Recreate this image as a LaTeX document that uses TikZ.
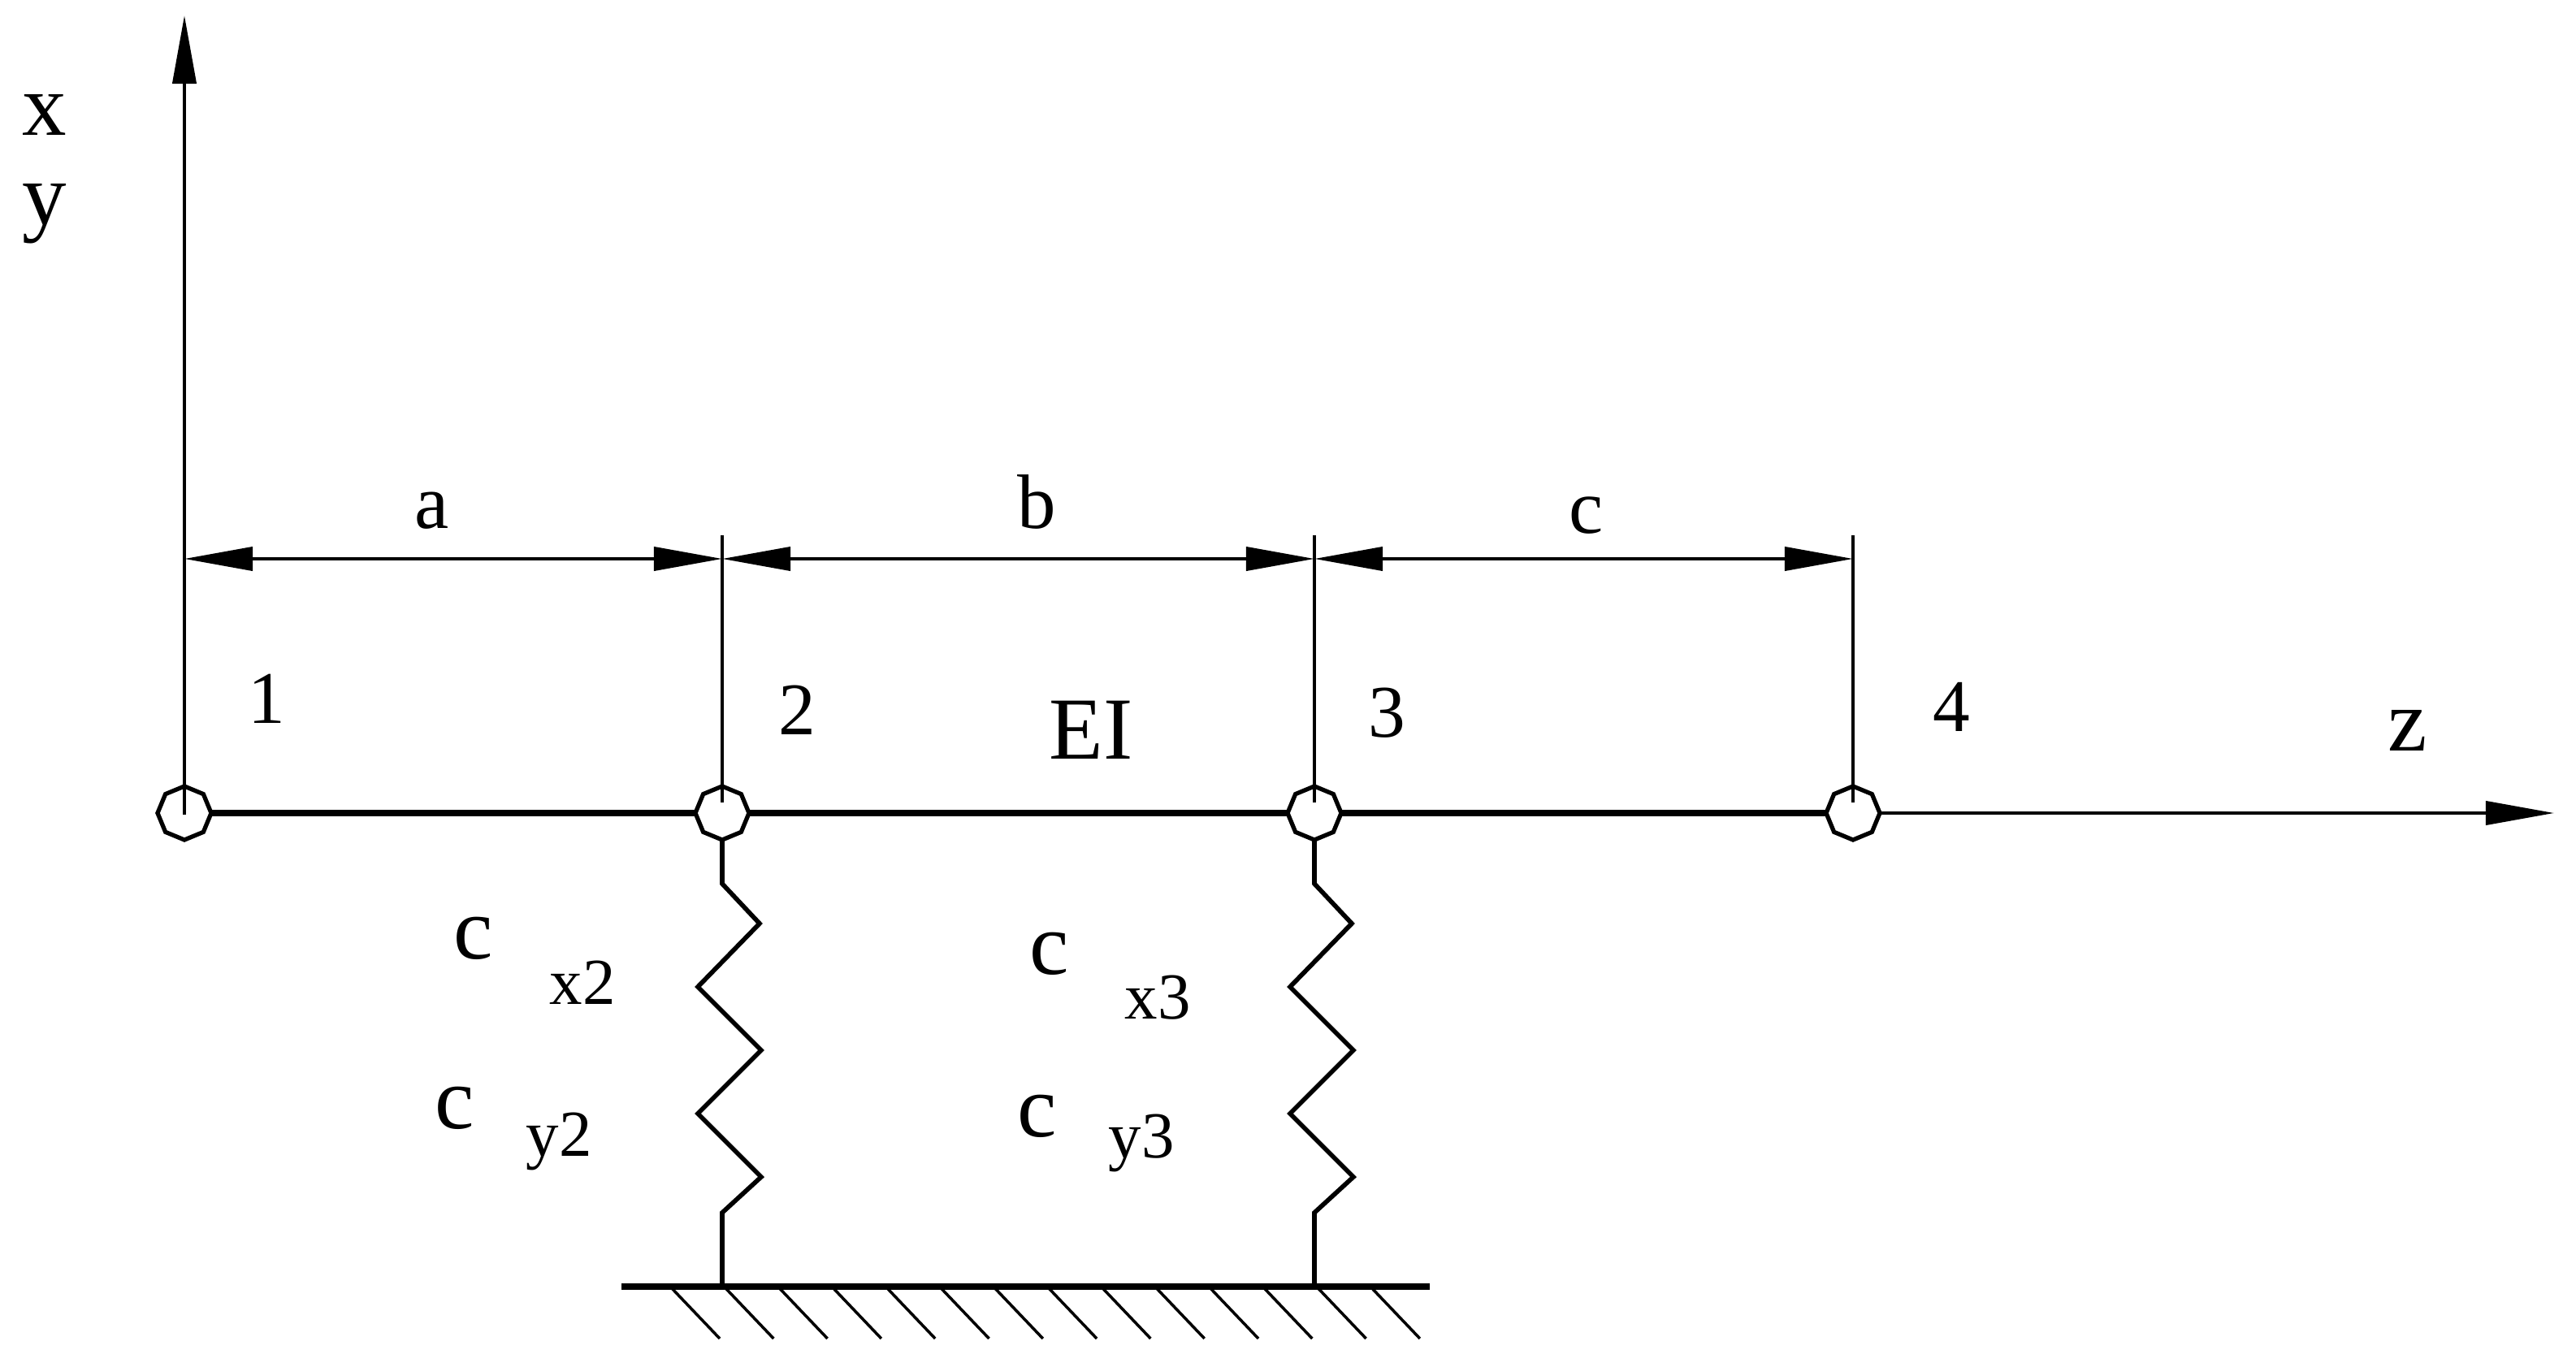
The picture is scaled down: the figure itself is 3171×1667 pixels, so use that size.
\documentclass[tikz,border=0pt]{standalone}
\usepackage{fontspec}
\setmainfont{Liberation Serif}
\usetikzlibrary{arrows.meta,shapes.geometric}

\tikzset{
  joint/.style={draw,regular polygon,regular polygon sides=8,regular polygon rotate=22.5,
    minimum size=0.66cm,inner sep=0pt,outer sep=0pt,line width=1.5pt,fill=white},
  beam/.style={line width=2.1pt},
  thinline/.style={line width=1.15pt},
  hatchline/.style={line width=1pt},
  spring/.style={line width=1.6pt,line join=miter},
  tip/.style={-{Triangle[length=0.84cm,width=0.29cm]}},
  dimline/.style={{Triangle[length=0.84cm,width=0.29cm]}-{Triangle[length=0.84cm,width=0.29cm]},line width=1.15pt},
  biglabel/.style={anchor=base,inner sep=0pt,font=\fontsize{31}{31}\selectfont},
  dimlabel/.style={anchor=base,inner sep=0pt,font=\fontsize{27}{27}\selectfont},
  numlabel/.style={anchor=base,inner sep=0pt,font=\fontsize{26}{26}\selectfont},
  sublabel/.style={anchor=base,inner sep=0pt,font=\fontsize{23}{23}\selectfont},
}

\begin{document}
\begin{tikzpicture}[x=0.01cm,y=-0.01cm]
  \useasboundingbox (0,0) rectangle (3171,1667);

  % joints on the beam
  \foreach \i/\x/\y in {1/227/1003,2/889/988,3/1618/988,4/2281/988} {
    \node[joint] (n\i) at (\x,1001) {};
    \coordinate (d\i) at (\x,688);
    \coordinate (t\i) at (\x,659);
    \coordinate (s\i) at (\x,\y);
  }
  \coordinate (ytop) at (227,19);
  \coordinate (zend) at (3144,1001);

  % axes and extension lines
  \draw[thinline,tip] (s1) -- (ytop);
  \draw[thinline,tip] (n4.east) -- (zend);
  \foreach \i in {2,3,4} {
    \draw[thinline] (s\i) -- (t\i);
  }

  % dimensions
  \draw[dimline] (d1) -- (d2);
  \draw[dimline] (d2) -- (d3);
  \draw[dimline] (d3) -- (d4);

  % beam
  \draw[beam] (n1.east) -- (n2.west);
  \draw[beam] (n2.east) -- (n3.west);
  \draw[beam] (n3.east) -- (n4.west);

  % springs down to the ground
  \foreach \i/\x in {2/889,3/1618} {
    \coordinate (g\i) at (\x,1584);
    \draw[spring] (n\i.south) -- (\x,1088) -- ++(46,49) -- ++(-76,78) -- ++(78,78)
      -- ++(-78,78) -- ++(78,78) -- ++(-48,44) -- (g\i);
  }

  % ground
  \coordinate (gl) at (765,1584);
  \coordinate (gr) at (1760,1584);
  \draw[beam] (gl) -- (gr);
  \foreach \k in {0,...,13} {
    \draw[hatchline] ({825+66.3*\k},1584) -- ++(61,64);
  }

  % labels
  \node[biglabel] (lx) at (55,167) {x};
  \node[biglabel] (ly) at (55,277) {y};
  \node[biglabel] (lz) at (2964,924) {z};
  \node[dimlabel] (la) at (532,651) {a};
  \node[dimlabel] (lb) at (1276,651) {b};
  \node[dimlabel] (lc) at (1953,657) {c};
  \node[biglabel] (lei) at (1343,934) {EI};
  \foreach \i/\x/\y in {1/328/890,2/981/904,3/1707/908,4/2402/900} {
    \node[numlabel] (m\i) at (\x,\y) {\i};
  }
  \node[biglabel] (cx2) at (583,1180) {c};
  \node[sublabel] (sx2) at (717,1236) {x2};
  \node[biglabel] (cx3) at (1292,1199) {c};
  \node[sublabel] (sx3) at (1425,1254) {x3};
  \node[biglabel] (cy2) at (560,1389) {c};
  \node[sublabel] (sy2) at (688,1423) {y2};
  \node[biglabel] (cy3) at (1277,1399) {c};
  \node[sublabel] (sy3) at (1405,1425) {y3};
\end{tikzpicture}
\end{document}
